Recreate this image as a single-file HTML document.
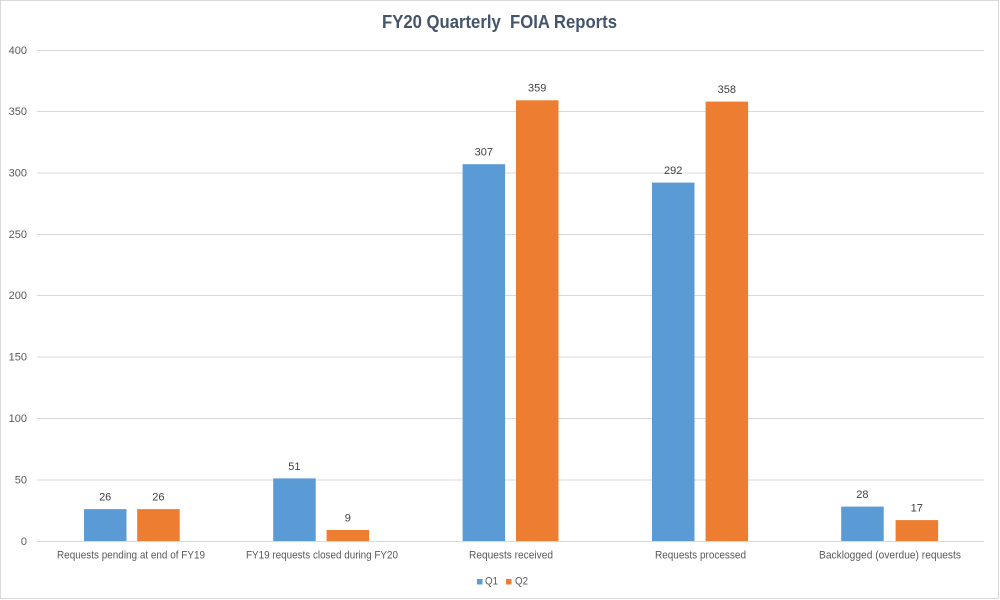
<!DOCTYPE html>
<html>
<head>
<meta charset="utf-8">
<style>
html,body{margin:0;padding:0;background:#fff;}
svg{display:block;}
text{font-family:"Liberation Sans",Arial,sans-serif;}
</style>
</head>
<body>
<svg width="1000" height="600" viewBox="0 0 1000 600" xmlns="http://www.w3.org/2000/svg">
<rect x="0" y="0" width="1000" height="600" fill="#ffffff"/>
<rect x="0.5" y="0.5" width="998" height="598" fill="none" stroke="#d9d9d9" stroke-width="1"/>

<!-- Title -->
<text x="382" y="28" font-size="18.5" font-weight="bold" fill="#44546a" textLength="235" lengthAdjust="spacingAndGlyphs">FY20 Quarterly&#160; FOIA Reports</text>

<!-- Gridlines -->
<g stroke="#d9d9d9" stroke-width="1">
<line x1="37" y1="50.5" x2="984" y2="50.5"/>
<line x1="37" y1="111.5" x2="984" y2="111.5"/>
<line x1="37" y1="173" x2="984" y2="173"/>
<line x1="37" y1="234.5" x2="984" y2="234.5"/>
<line x1="37" y1="295.5" x2="984" y2="295.5"/>
<line x1="37" y1="357" x2="984" y2="357"/>
<line x1="37" y1="418.5" x2="984" y2="418.5"/>
<line x1="37" y1="480" x2="984" y2="480"/>
<line x1="37" y1="541.5" x2="984" y2="541.5"/>
</g>

<!-- Y axis labels -->
<g font-size="11" fill="#595959" text-anchor="end">
<text x="27" y="54">400</text>
<text x="27" y="115">350</text>
<text x="27" y="176.5">300</text>
<text x="27" y="238">250</text>
<text x="27" y="299">200</text>
<text x="27" y="360.5">150</text>
<text x="27" y="422">100</text>
<text x="27" y="483.5">50</text>
<text x="27" y="545">0</text>
</g>

<!-- Bars Q1 -->
<g fill="#5b9bd5">
<rect x="84" y="509.1" width="42.5" height="31.9"/>
<rect x="273.2" y="478.4" width="42.5" height="62.6"/>
<rect x="462.6" y="164.2" width="42.5" height="376.8"/>
<rect x="652" y="182.6" width="42.5" height="358.4"/>
<rect x="841.2" y="506.6" width="42.5" height="34.4"/>
</g>
<!-- Bars Q2 -->
<g fill="#ed7d31">
<rect x="137.2" y="509.1" width="42.5" height="31.9"/>
<rect x="326.6" y="530" width="42.5" height="11"/>
<rect x="516" y="100.3" width="42.5" height="440.7"/>
<rect x="705.6" y="101.6" width="42.5" height="439.4"/>
<rect x="895.6" y="520.1" width="42.5" height="20.9"/>
</g>

<!-- Value labels -->
<g font-size="11" fill="#404040" text-anchor="middle">
<text x="105.2" y="500.5">26</text>
<text x="158.4" y="500.5">26</text>
<text x="294.4" y="469.8">51</text>
<text x="347.8" y="521.4">9</text>
<text x="483.8" y="155.6">307</text>
<text x="537.2" y="91.7">359</text>
<text x="673.2" y="174">292</text>
<text x="726.8" y="93">358</text>
<text x="862.4" y="498">28</text>
<text x="916.8" y="511.5">17</text>
</g>

<!-- Category labels -->
<g font-size="11" fill="#595959">
<text x="57" y="558.5" textLength="148" lengthAdjust="spacingAndGlyphs">Requests pending at end of FY19</text>
<text x="246" y="558.5" textLength="152" lengthAdjust="spacingAndGlyphs">FY19 requests closed during FY20</text>
<text x="469" y="558.5" textLength="84" lengthAdjust="spacingAndGlyphs">Requests received</text>
<text x="655" y="558.5" textLength="91" lengthAdjust="spacingAndGlyphs">Requests processed</text>
<text x="819" y="558.5" textLength="142" lengthAdjust="spacingAndGlyphs">Backlogged (overdue) requests</text>
</g>

<!-- Legend -->
<rect x="477" y="579" width="5.5" height="5.5" fill="#5b9bd5"/>
<text x="485" y="584.5" font-size="11" fill="#595959" textLength="13" lengthAdjust="spacingAndGlyphs">Q1</text>
<rect x="506" y="579" width="5.5" height="5.5" fill="#ed7d31"/>
<text x="515" y="584.5" font-size="11" fill="#595959" textLength="13" lengthAdjust="spacingAndGlyphs">Q2</text>
</svg>
</body>
</html>
